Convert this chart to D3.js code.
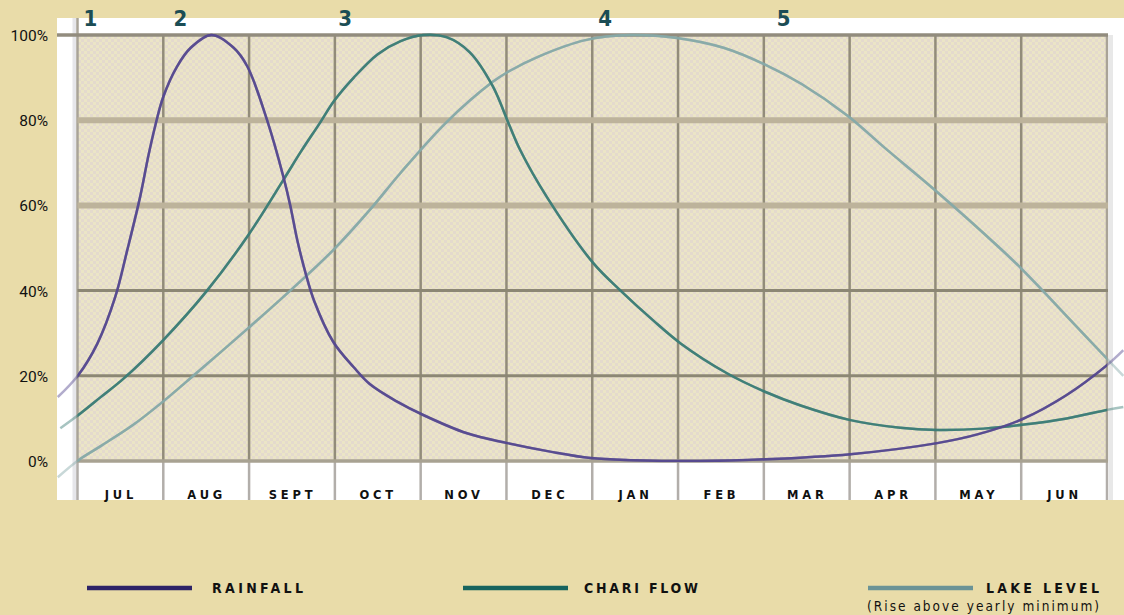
<!DOCTYPE html>
<html>
<head>
<meta charset="utf-8">
<script src="https://cdn.jsdelivr.net/npm/d3@7/dist/d3.min.js"></script>
<style>
  html, body { margin: 0; padding: 0; background: #e9dca9; }
  svg { display: block; }
</style>
</head>
<body>
<svg id="chart" width="1124" height="615"></svg>
<script>
// ---------- DATA ----------
const months = ["JUL", "AUG", "SEPT", "OCT", "NOV", "DEC", "JAN", "FEB", "MAR", "APR", "MAY", "JUN"];
const yTicks = [0, 20, 40, 60, 80, 100];

// x positions are in months from the start of July
const rainfallX = [-0.23, 0.01, 0.23, 0.44, 0.58, 0.73, 0.83, 0.91, 1.0, 1.16, 1.32, 1.56, 1.82, 1.98, 2.21, 2.40, 2.48, 2.56, 2.66, 2.76, 2.98, 3.22, 3.41, 3.72, 4.03, 4.54, 5.01, 5.51, 5.98, 6.48, 7.26, 8.02, 9.01, 10.02, 10.5, 11.01, 11.53, 12.0, 12.19];
const rainfallY = [15, 20.2, 27.5, 38.5, 49.5, 62, 72, 79, 85.5, 92.6, 97, 100, 97, 92.6, 80, 66.7, 60, 52, 44, 37.5, 28, 22, 18, 14, 10.8, 6.5, 4.2, 2.2, 0.7, 0.2, 0, 0.4, 1.6, 4.2, 6.3, 9.8, 15.5, 22.5, 26];

const chariX = [-0.2, 0.01, 0.27, 0.54, 1.0, 1.51, 1.99, 2.40, 2.60, 2.83, 2.99, 3.22, 3.50, 3.76, 4.03, 4.30, 4.57, 4.84, 5.03, 5.16, 5.47, 6.01, 6.33, 6.71, 7.03, 7.57, 8.02, 8.42, 9.01, 9.59, 10.02, 10.56, 11.01, 11.53, 12.0, 12.19];
const chariY = [7.7, 10.8, 15, 19.4, 28.4, 40, 53, 66, 72.5, 79.5, 84.5, 90, 95.5, 98.5, 100, 99.5, 96, 88, 79, 73, 62, 46.5, 40, 33, 27.6, 20.6, 16.2, 13.1, 9.6, 7.8, 7.3, 7.6, 8.5, 10, 12, 12.7];

const lakeX = [-0.23, 0.01, 0.27, 0.65, 1.0, 1.35, 1.99, 2.48, 2.98, 3.41, 3.76, 4.30, 4.84, 5.03, 5.38, 5.92, 6.45, 6.99, 7.53, 8.02, 8.44, 8.98, 9.41, 10.0, 10.75, 11.01, 11.25, 11.53, 12.0, 12.19];
const lakeY = [-3.8, 0.2, 3.5, 8.5, 14, 20, 31.2, 40, 49.5, 59, 67.5, 79.5, 89, 91.5, 95, 98.8, 100, 99.3, 97, 93, 88.5, 81, 73.5, 63.5, 50, 45, 40, 34, 24, 20];

const markerLabels = ["1", "2", "3", "4", "5"];
const markerX = [0.15, 1.2, 3.12, 6.15, 8.23];

const seriesNames = ["RAINFALL", "CHARI FLOW", "LAKE LEVEL"];
const seriesSub = ["", "", "(Rise above yearly minimum)"];

// ---------- STYLE ----------
const lineColors = ["#54488f", "#3b7c76", "#86a9a8"];
const legendColors = ["#2d2367", "#17645e", "#6b9396"];

const svg = d3.select("#chart");
const W = 1124, H = 615;
const plot = { left: 77.5, right: 1107, top: 35, bottom: 461 };
const white = { left: 57, right: 1124, top: 18, bottom: 500 };

const x = d3.scaleLinear().domain([0, 12]).range([plot.left, plot.right]);
const y = d3.scaleLinear().domain([0, 100]).range([plot.bottom, plot.top]);

const defs = svg.append("defs");
const pat = defs.append("pattern").attr("id", "dither").attr("patternUnits", "userSpaceOnUse")
  .attr("width", 6).attr("height", 6);
pat.append("rect").attr("width", 6).attr("height", 6).attr("fill", "#ebe5c6");
pat.append("rect").attr("width", 3).attr("height", 3).attr("fill", "#e4dacd");
pat.append("rect").attr("x", 3).attr("y", 3).attr("width", 3).attr("height", 3).attr("fill", "#e4dacd");

defs.append("clipPath").attr("id", "clipWhite").append("rect")
  .attr("x", white.left).attr("y", white.top).attr("width", white.right - white.left).attr("height", white.bottom - white.top);
defs.append("clipPath").attr("id", "clipPlot").append("rect")
  .attr("x", plot.left).attr("y", plot.top - 3).attr("width", plot.right - plot.left).attr("height", plot.bottom - plot.top + 4);

// background
svg.append("rect").attr("width", W).attr("height", H).attr("fill", "#e9dca9");
svg.append("rect").attr("x", white.left).attr("y", white.top)
  .attr("width", white.right - white.left).attr("height", white.bottom - white.top).attr("fill", "#ffffff");

// soft shadow strips at left/right of plot
svg.append("rect").attr("x", plot.left - 5).attr("y", white.top).attr("width", 4).attr("height", white.bottom - white.top).attr("fill", "#e6e6ea");
svg.append("rect").attr("x", plot.right + 2).attr("y", plot.top).attr("width", 4).attr("height", white.bottom - plot.top).attr("fill", "#e8e8e8");

// plot fill
svg.append("rect").attr("x", plot.left).attr("y", plot.top)
  .attr("width", plot.right - plot.left).attr("height", plot.bottom - plot.top).attr("fill", "url(#dither)");

// vertical grid lines (month boundaries)
const vBounds = d3.range(0, 13);
svg.append("g").selectAll("line.vbelow").data(vBounds).join("line")
  .attr("x1", d => x(d)).attr("x2", d => x(d))
  .attr("y1", plot.bottom).attr("y2", white.bottom)
  .attr("stroke", "#b2aeaa").attr("stroke-width", 2.5);
svg.append("g").selectAll("line.vin").data(vBounds).join("line")
  .attr("x1", d => x(d)).attr("x2", d => x(d))
  .attr("y1", d => d === 0 ? white.top : plot.top).attr("y2", plot.bottom)
  .attr("stroke", d => (d === 0 || d === 12) ? "#a9a397" : "#928c7a")
  .attr("stroke-width", 2.5);

// horizontal grid lines
const hStyle = {
  0: { w: 3.5, c: "#a8a292" },
  20: { w: 3, c: "#8c8774" },
  40: { w: 3, c: "#8c8774" },
  60: { w: 6, c: "#bdb39b" },
  80: { w: 6, c: "#bdb39b" },
  100: { w: 3.5, c: "#928c7e" }
};
svg.append("g").selectAll("line.h").data(yTicks).join("line")
  .attr("x1", d => d === 100 ? white.left : plot.left).attr("x2", plot.right + 1)
  .attr("y1", d => y(d)).attr("y2", d => y(d))
  .attr("stroke", d => hStyle[d].c).attr("stroke-width", d => hStyle[d].w);

// y axis labels
const yAxis = d3.axisLeft(y).tickValues(yTicks).tickFormat(d => d + "%").tickSize(0).tickPadding(0);
const gy = svg.append("g").attr("transform", "translate(48,0)").call(yAxis);
gy.select(".domain").remove();
gy.selectAll("text").attr("font-family", "Roboto, 'DejaVu Sans', sans-serif").attr("font-size", 15.5)
  .attr("fill", "#111").attr("dy", "0.35em");

// x axis month labels
const xAxis = d3.axisBottom(x).tickValues(d3.range(12).map(i => i + 0.5))
  .tickFormat((d, i) => months[i]).tickSize(0).tickPadding(0);
const gx = svg.append("g").attr("transform", "translate(0,495)").call(xAxis);
gx.select(".domain").remove();
gx.selectAll("text").attr("font-family", "'DejaVu Sans', sans-serif").attr("font-weight", "bold")
  .attr("font-size", 11.5).attr("letter-spacing", "3.8px").attr("fill", "#111").attr("dy", "0.35em");

// lines
const line = d3.line().x(d => x(d[0])).y(d => y(d[1])).curve(d3.curveCatmullRom.alpha(0.5));
const seriesData = [
  d3.zip(rainfallX, rainfallY),
  d3.zip(chariX, chariY),
  d3.zip(lakeX, lakeY)
];
const drawOrder = [2, 1, 0];
const gOut = svg.append("g").attr("clip-path", "url(#clipWhite)");
const gIn = svg.append("g").attr("clip-path", "url(#clipPlot)");
drawOrder.forEach(i => {
  gOut.append("path").attr("d", line(seriesData[i])).attr("fill", "none")
    .attr("stroke", lineColors[i]).attr("stroke-width", 2.5).attr("stroke-opacity", 0.45);
  gIn.append("path").attr("d", line(seriesData[i])).attr("fill", "none")
    .attr("stroke", lineColors[i]).attr("stroke-width", 2.5).attr("stroke-opacity", 0.95);
});

// marker numbers
svg.append("g").selectAll("text").data(markerLabels).join("text")
  .attr("x", (d, i) => x(markerX[i])).attr("y", 26)
  .attr("text-anchor", "middle")
  .attr("font-family", "'DejaVu Sans Condensed', 'DejaVu Sans', sans-serif")
  .attr("font-weight", "bold").attr("font-size", 22).attr("fill", "#1b4d55")
  .text(d => d);

// legend
const legX = [87, 463, 868];
const legLineW = 105;
const legTextX = [212, 584, 986];
const legTextW = [91, 114, 113];
const lg = svg.append("g");
seriesNames.forEach((name, i) => {
  lg.append("line").attr("x1", legX[i]).attr("x2", legX[i] + legLineW)
    .attr("y1", 588).attr("y2", 588).attr("stroke", legendColors[i]).attr("stroke-width", 4.5);
  lg.append("text").attr("x", legTextX[i]).attr("y", 593)
    .attr("font-family", "'DejaVu Sans Condensed', 'DejaVu Sans', sans-serif")
    .attr("font-weight", "bold").attr("font-size", 14).attr("fill", "#111")
    .attr("textLength", legTextW[i]).attr("lengthAdjust", "spacing")
    .text(name);
  if (seriesSub[i]) {
    lg.append("text").attr("x", 867).attr("y", 611)
      .attr("font-family", "'DejaVu Sans Condensed', 'DejaVu Sans', sans-serif")
      .attr("font-size", 13.5).attr("fill", "#111")
      .attr("textLength", 232).attr("lengthAdjust", "spacing")
      .text(seriesSub[i]);
  }
});
</script>
</body>
</html>
